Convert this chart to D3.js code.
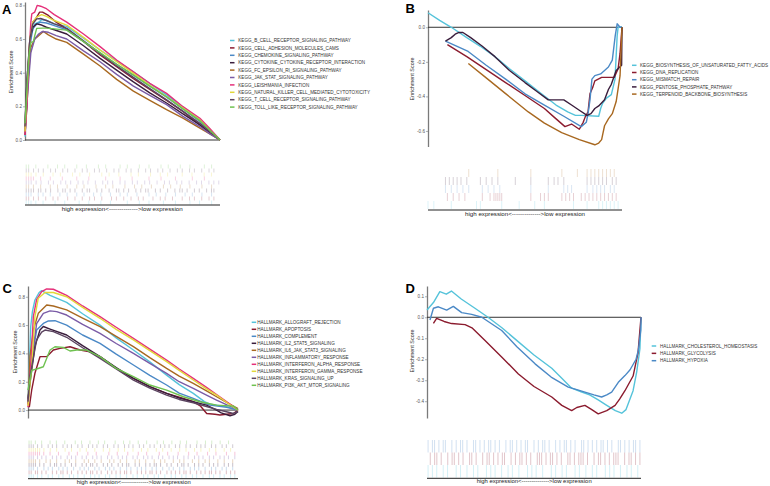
<!DOCTYPE html>
<html><head><meta charset="utf-8">
<script src="https://cdn.jsdelivr.net/npm/d3@7"></script>
<style>body{margin:0;background:#fff}svg{display:block}text{font-family:"Liberation Sans",Arial,Helvetica,sans-serif}</style>
</head><body><svg id="c" width="770" height="486"></svg>
<script>
// ---------------- DATA ----------------
const colors10 = ["#55C3DA","#8B1B2E","#4B89C6","#3A1D3C","#A86820","#7A5BA6","#E5307A","#E2D83A","#5B4460","#6FC250"];
const colors5  = ["#55C3DA","#8B1B2E","#4B89C6","#3A1D3C","#A86820"];
const colors3  = ["#55C3DA","#8B1B2E","#4B89C6"];

const namesA = ["KEGG_B_CELL_RECEPTOR_SIGNALING_PATHWAY","KEGG_CELL_ADHESION_MOLECULES_CAMS","KEGG_CHEMOKINE_SIGNALING_PATHWAY","KEGG_CYTOKINE_CYTOKINE_RECEPTOR_INTERACTION","KEGG_FC_EPSILON_RI_SIGNALING_PATHWAY","KEGG_JAK_STAT_SIGNALING_PATHWAY","KEGG_LEISHMANIA_INFECTION","KEGG_NATURAL_KILLER_CELL_MEDIATED_CYTOTOXICITY","KEGG_T_CELL_RECEPTOR_SIGNALING_PATHWAY","KEGG_TOLL_LIKE_RECEPTOR_SIGNALING_PATHWAY"];
const namesB = ["KEGG_BIOSYNTHESIS_OF_UNSATURATED_FATTY_ACIDS","KEGG_DNA_REPLICATION","KEGG_MISMATCH_REPAIR","KEGG_PENTOSE_PHOSPHATE_PATHWAY","KEGG_TERPENOID_BACKBONE_BIOSYNTHESIS"];
const namesC = ["HALLMARK_ALLOGRAFT_REJECTION","HALLMARK_APOPTOSIS","HALLMARK_COMPLEMENT","HALLMARK_IL2_STAT5_SIGNALING","HALLMARK_IL6_JAK_STAT3_SIGNALING","HALLMARK_INFLAMMATORY_RESPONSE","HALLMARK_INTERFERON_ALPHA_RESPONSE","HALLMARK_INTERFERON_GAMMA_RESPONSE","HALLMARK_KRAS_SIGNALING_UP","HALLMARK_PI3K_AKT_MTOR_SIGNALING"];
const namesD = ["HALLMARK_CHOLESTEROL_HOMEOSTASIS","HALLMARK_GLYCOLYSIS","HALLMARK_HYPOXIA"];

const ticksA = [0,0.2,0.4,0.6,0.8];
const ticksB = [0,-0.2,-0.4,-0.6];
const ticksC = [0,0.2,0.4,0.6,0.8];
const ticksD = [0.1,0,-0.1,-0.2,-0.3,-0.4];

const axisTitle = "Enrichment Score";
const rugLabel = "high expression<-------------->low expression";

// running enrichment score curves: [rank %, ES]
const curvesA = [
 [[0,0.02],[1,0.25],[2,0.5],[3,0.62],[5,0.69],[7,0.70],[8.5,0.715],[11,0.71],[15,0.69],[21.4,0.675],[30,0.605],[38.5,0.535],[47,0.47],[55.6,0.405],[64,0.335],[72.6,0.268],[81,0.195],[89.7,0.12],[95,0.06],[100,0]],
 [[0,0.03],[1,0.2],[2.5,0.58],[4,0.7],[5.5,0.72],[7.5,0.76],[9,0.76],[12,0.74],[16,0.70],[21.4,0.66],[30,0.585],[38.5,0.505],[47,0.435],[55.6,0.365],[64,0.30],[72.6,0.235],[81,0.17],[89.7,0.09],[95,0.04],[100,0]],
 [[0,0.05],[1,0.3],[2.5,0.56],[4,0.66],[6,0.69],[8,0.70],[11,0.695],[15,0.68],[21.4,0.655],[30,0.585],[38.5,0.515],[47,0.45],[55.6,0.385],[64,0.32],[72.6,0.255],[81,0.185],[89.7,0.11],[95,0.055],[100,0]],
 [[0,0.1],[1,0.35],[2.5,0.6],[4,0.67],[6,0.69],[8,0.685],[11,0.67],[15,0.655],[21.4,0.63],[30,0.56],[38.5,0.485],[47,0.415],[55.6,0.345],[64,0.28],[72.6,0.22],[81,0.155],[89.7,0.09],[95,0.04],[100,0]],
 [[0,0.05],[1.5,0.35],[3,0.55],[5,0.6],[7,0.62],[9.4,0.645],[12,0.625],[16,0.6],[21.4,0.58],[30,0.51],[38.5,0.44],[47,0.36],[55.6,0.29],[64,0.235],[72.6,0.18],[81,0.13],[89.7,0.07],[95,0.035],[100,0]],
 [[0,0.05],[1.5,0.3],[3,0.52],[5,0.6],[7,0.63],[9,0.645],[12,0.64],[16,0.62],[21.4,0.6],[30,0.53],[38.5,0.465],[47,0.39],[55.6,0.32],[64,0.265],[72.6,0.21],[81,0.14],[89.7,0.08],[95,0.035],[100,0]],
 [[0,0.03],[1,0.22],[2,0.5],[3,0.7],[3.5,0.75],[5,0.76],[6.3,0.80],[8,0.795],[11,0.78],[15,0.745],[21.4,0.70],[30,0.63],[38.5,0.555],[47,0.475],[55.6,0.405],[64,0.337],[72.6,0.277],[81,0.198],[89.7,0.129],[95,0.065],[100,0]],
 [[0,0.05],[1,0.3],[2.5,0.6],[4,0.7],[6,0.73],[8.5,0.745],[11,0.735],[15,0.71],[21.4,0.683],[30,0.61],[38.5,0.535],[47,0.465],[55.6,0.396],[64,0.325],[72.6,0.257],[81,0.19],[89.7,0.119],[95,0.055],[100,0]],
 [[0,0.08],[1,0.35],[2.5,0.6],[4,0.69],[6,0.72],[8,0.722],[11,0.71],[15,0.69],[21.4,0.663],[30,0.59],[38.5,0.515],[47,0.44],[55.6,0.372],[64,0.305],[72.6,0.238],[81,0.17],[89.7,0.099],[95,0.05],[100,0]],
 [[0,0.1],[1,0.3],[2,0.5],[3,0.58],[4.3,0.585],[5,0.62],[6,0.663],[9,0.665],[11,0.665],[15,0.66],[21.4,0.653],[30,0.585],[38.5,0.519],[47,0.45],[55.6,0.386],[64,0.32],[72.6,0.257],[81,0.185],[89.7,0.115],[95,0.055],[100,0]]
];
const curvesB = [
 [[0,0.084],[6,0.04],[12,0],[20,-0.06],[27,-0.11],[34.5,-0.17],[42,-0.24],[50,-0.31],[58,-0.38],[66,-0.45],[72,-0.49],[76,-0.51],[79,-0.51],[88,-0.515],[89,-0.47],[90,-0.44],[92,-0.41],[94.5,-0.39],[96.4,-0.30],[97.5,-0.05],[98,0],[100,0]],
 [[10,-0.10],[20,-0.17],[30,-0.245],[40,-0.32],[50,-0.395],[60,-0.47],[65,-0.52],[70.6,-0.575],[74,-0.56],[78,-0.59],[80,-0.55],[81,-0.52],[82.5,-0.49],[83.5,-0.385],[85,-0.345],[86,-0.31],[89.5,-0.29],[96,-0.29],[98,-0.24],[99,-0.15],[100,0]],
 [[9,-0.08],[15,-0.11],[20.7,-0.14],[30,-0.22],[40,-0.30],[50,-0.385],[60,-0.45],[70,-0.515],[79,-0.575],[81.6,-0.55],[82.5,-0.50],[83.5,-0.42],[84.5,-0.30],[86,-0.28],[89,-0.27],[91,-0.25],[93,-0.23],[95,-0.19],[96.5,-0.05],[97.5,0.02],[99,0],[100,0]],
 [[9,-0.08],[12,-0.06],[14,-0.04],[16,-0.03],[18,-0.03],[22,-0.06],[28,-0.11],[34.5,-0.17],[42,-0.25],[50,-0.32],[56,-0.37],[62,-0.42],[66,-0.42],[70,-0.42],[74,-0.45],[78,-0.48],[82,-0.51],[84,-0.50],[86,-0.47],[88,-0.455],[91,-0.42],[93,-0.36],[94.5,-0.33],[97,-0.25],[99.8,-0.22],[100,0]],
 [[20.8,-0.21],[30,-0.293],[40,-0.384],[51.7,-0.49],[60,-0.555],[68.9,-0.61],[78,-0.65],[86,-0.68],[88,-0.67],[89.5,-0.65],[91,-0.57],[93,-0.53],[95,-0.50],[97,-0.43],[99,-0.28],[100,0]]
];
const curvesC = [
 [[0,0.05],[0.63,0.31],[1.3,0.59],[2.1,0.695],[3.3,0.777],[5.3,0.83],[6.5,0.843],[10.5,0.81],[18.4,0.76],[26,0.68],[34.3,0.60],[42,0.51],[50.2,0.424],[58,0.34],[66,0.247],[72,0.18],[78.7,0.118],[84,0.06],[86.7,0.042],[94.6,0.024],[100,0]],
 [[0.63,0.02],[1.75,0.14],[3.3,0.26],[5.7,0.377],[8.9,0.377],[12.06,0.424],[15.2,0.436],[20,0.447],[24.8,0.424],[29.5,0.412],[34.3,0.377],[42,0.294],[50.2,0.224],[58,0.165],[66,0.118],[74,0.082],[78.7,0.059],[82,0.03],[85.1,-0.024],[89,-0.03],[91.4,-0.035],[97.8,-0.024],[100,0]],
 [[0,0.06],[1.75,0.35],[4.1,0.565],[7.3,0.612],[9.7,0.629],[12.86,0.631],[18.4,0.60],[26,0.53],[34.3,0.471],[42,0.395],[50.2,0.318],[58,0.245],[66,0.177],[72,0.12],[78.7,0.082],[84,0.05],[86.7,0.035],[94.6,0.02],[100,0]],
 [[0,0.08],[0.95,0.19],[3.3,0.45],[5.7,0.565],[7.3,0.59],[10.5,0.572],[18.4,0.53],[26,0.455],[34.3,0.377],[42,0.30],[50.2,0.224],[58,0.165],[66,0.118],[72,0.085],[78.7,0.059],[85,0.035],[89.8,0.0],[92,-0.02],[96.2,-0.04],[98.5,-0.03],[100,-0.01]],
 [[0,0.04],[0.95,0.38],[2.54,0.565],[4.9,0.683],[8.9,0.742],[12.06,0.735],[18.4,0.707],[26,0.65],[34.3,0.589],[42,0.52],[50.2,0.448],[58,0.37],[66,0.294],[72,0.24],[78.7,0.188],[85,0.135],[89.8,0.094],[95,0.05],[100,0.01]],
 [[0,0.05],[1.75,0.35],[4.1,0.61],[7.3,0.683],[10.5,0.70],[13.65,0.695],[18.4,0.671],[26,0.605],[34.3,0.542],[42,0.47],[50.2,0.40],[58,0.33],[66,0.259],[72,0.2],[78.7,0.153],[85,0.105],[89.8,0.07],[95,0.035],[100,0.005]],
 [[0,0.02],[1.75,0.42],[2.54,0.66],[4.1,0.78],[6.5,0.836],[8.9,0.855],[12.06,0.853],[18.4,0.81],[26,0.735],[34.3,0.66],[42,0.585],[50.2,0.506],[58,0.43],[66,0.353],[72,0.29],[78.7,0.224],[85,0.16],[89.8,0.11],[95,0.055],[100,0]],
 [[0,0.03],[1.75,0.31],[3.3,0.66],[4.9,0.79],[8.1,0.83],[12.06,0.83],[18.4,0.80],[26,0.725],[34.3,0.648],[42,0.57],[50.2,0.495],[58,0.42],[66,0.342],[72,0.28],[78.7,0.212],[85,0.15],[89.8,0.106],[95,0.05],[100,0]],
 [[0,0.06],[0.95,0.24],[4.1,0.495],[6.5,0.55],[8.1,0.565],[12.06,0.554],[18.4,0.514],[26,0.44],[34.3,0.365],[42,0.29],[50.2,0.212],[58,0.155],[66,0.106],[72,0.075],[78.7,0.052],[85,0.025],[89.8,0.005],[94,-0.01],[97.8,-0.024],[100,-0.01]],
 [[0,0.14],[1.75,0.28],[4.1,0.29],[7.3,0.306],[10.5,0.424],[12.86,0.447],[16.8,0.443],[20,0.417],[23.2,0.424],[27.9,0.424],[34.3,0.377],[42,0.294],[50.2,0.236],[58,0.177],[66,0.141],[74,0.094],[81.9,0.059],[89.8,0.035],[97.8,0.028],[100,0]]
];
const curvesD = [
 [[0,0.035],[3,0.07],[6,0.122],[9,0.11],[11.4,0.125],[16,0.087],[22.4,0.043],[28.5,0],[35,-0.05],[42.6,-0.116],[50,-0.18],[58.3,-0.243],[63,-0.29],[67.6,-0.338],[72,-0.355],[76,-0.37],[80,-0.394],[84,-0.42],[88,-0.445],[91,-0.457],[93,-0.44],[96.3,-0.35],[98,-0.26],[99.5,-0.15],[100,0]],
 [[3,-0.029],[4.5,-0.005],[8,-0.02],[11.5,-0.03],[17.8,-0.035],[21,-0.05],[27,-0.11],[35,-0.19],[42.7,-0.27],[50,-0.33],[58.3,-0.38],[63,-0.42],[67.6,-0.445],[70,-0.43],[73.8,-0.42],[77,-0.44],[80,-0.46],[84,-0.445],[87.9,-0.42],[90,-0.39],[92.5,-0.35],[96.3,-0.28],[98.6,-0.17],[100,0]],
 [[1.4,-0.013],[3,0.043],[5.3,0.05],[9.2,0.034],[12.3,0.052],[16.2,0.022],[20.9,0.014],[25.6,0],[34.9,-0.063],[42,-0.14],[50.5,-0.222],[58,-0.285],[66,-0.333],[70,-0.345],[73.8,-0.357],[78,-0.37],[81.6,-0.38],[84,-0.37],[86.3,-0.357],[89.4,-0.31],[92.5,-0.278],[94.9,-0.25],[97.7,-0.2],[98.8,-0.155],[99.9,-0.06],[100,0]]
];

// gene hit positions (rug rows); '|' = hit in that rank bin
const rugA = [
 "|||.|..|....|...|.....|...|....|...|......|....|...|.....|....|.....|...|....|...",
 "||.|.|..|..|.|...|..|..|..|.|..|...|.|..|..|..|.|...|..|.|..|...|..|.|..|..|.|..",
 "|||..|.|..|...|..|...|..|...|..|...|...|..|...|....|..|...|...|...|..|...|...|...",
 "||||.||.|.|..|.||.|.|..|.||..|.|..|..||.|.|..|.|.||..|.|..|..|.||.|..|.|..|.||..",
 "||.|..|...|..|...|...|..|....|...|..|....|...|..|...|....|..|...|...|....|...|...",
 "|||.|.|..|.|..|.|.|..|.|.|..|..|.|.|..|.|..|.|..|.|..|..|.|..|.|..|..|.|..|.|.|",
 "||||..|...|....|.....|....|......|.....|....|......|....|.....|......|....|......",
 "|||.|..|...|..|....|..|...|....|..|...|....|..|....|...|..|.....|...|....|..|...",
 "||.|.|.|..|.|..|.|..|..|.|..|.|..|..|.|..|.|..|..|.|..|.|..|..|.|..|.|..|..|.|..",
 "||..|....|...|..|....|...|....|..|.....|..|....|...|....|..|....|...|.....|..|..."
];
const rugB = [
 [0,3,12,25,27,38,47,55,60,75,82,88,90,92,94,96,98],
 [10,13,16,19,28,32,34,35,36,37,38,53,58,60,62,69,71,73,75,79,81,83,85,87,89,91,93,95,97],
 [9,12,15,18,21,28,31,34,37,53,62,70,72,74,82,85,87,89,91,94,96],
 [9,11,13,15,17,20,27,30,33,36,45,53,62,65,67,70,82,84,86,88,90,92,95,97],
 [21,36,53,69,77,82,84,86,88,90,92,94,96]
];
const rugC = [
 "|||.|.|..|.|..|.|..|.|.|..|..|.|.|..|.|..|.|..|..|.|..|.|..|.|..|..|.|..|.|..|.|..|..|.|..|.|..|.|.",
 "||.||.|.|..|.|.||.|.|..|.|.|.||.|.|..|.|.|.|.||.|..|.|.|.||.|.|..|.|.|.|.||.|..|.|.|.||.|.|..|.|.|.",
 "|||.|..|.|.|..|.|.|..|..|.|.|..|.|..|.|.|..|..|.|..|.|.|..|.|..|..|.|..|.|..|.|.|..|..|.|..|.|..|..",
 "||||.|.|..|.||.|.|..|.|..|.|.||.|..|.|.|..|.|.||..|.|..|.|.||.|..|.|..|.||.|..|.|.|..|.|.|..|.|.|..",
 "||||.|..|.|..|...|.|..|...|.|..|..|...|.|..|..|...|.|..|...|..|.|...|..|.|...|..|..|.|...|..|...|..",
 "|||.|.|.|..|.|.|..|.|.|..|.|..|.|.|..|.|..|.|.|..|.|..|.|.|..|.|..|.|.|..|.|..|.|.|..|.|..|.|.|..|.",
 "||||||.|..|...|....|...|....|...|.....|...|....|....|...|.....|...|....|....|...|....|...|....|...|.",
 "||||||.|..|..|...|..|...|..|...|...|..|...|..|...|...|..|...|..|...|...|..|...|..|...|..|...|..|...",
 "|||.|.|..|.|.|..|.|.|..|.|..|.|.|..|.|..|.|..|.|.|..|.|..|.|..|.|.|..|.|..|.|..|.|.|..|.|..|.|..|..",
 "||.|..|...|..|...|....|..|...|...|..|....|...|..|...|...|....|..|...|...|..|....|...|..|...|...|...."
];
const rugD = [
 "|.|.|..|.|...|.|..|..|.|...|.|.|..|..|.|..|...|.|.|..|...|.|..|.|...|.|..|..|.|...|.|.|..|..|.|..|.",
 ".|.||.|..|.||.|.|..||.|..|.||.|.|.||..|.|.||.|.|..|||.|.||.|.|..||.|.|||.|..|.||.|.|.|||..|.||.|.|",
 "|.||.|.||..|.|.||.|..||.|.|.||.|.|..|.||.|.|.||..|.|.||.|..|.|.||.|.|..||.|.|.|.||.|.|..||.|.|.||.|"
];

// ---------------- LAYOUT ----------------
const svg = d3.select("#c");
svg.append("rect").attr("width",770).attr("height",486).attr("fill","#fff");

const panels = [
 {letter:"A", lx:2, ly:13.5, x0:25, x1:220, yTop:2, yBot:140, yDom:[0,0.82], ticks:ticksA,
  titleX:11, titleY:72, legX:230, legTX:238.3, legY:40.5, legStep:7.4,
  rugTop:164.5, rugBot:204.5, rugBase:205, rugTX:122.2, rugTY:210.8, rugTL:121, rugOp:0.22,
  names:namesA, colors:colors10, curves:curvesA, rug:rugA},
 {letter:"B", lx:405.5, ly:13.3, x0:428, x1:622, yTop:10, yBot:146.5, yDom:[-0.69,0.1], ticks:ticksB,
  titleX:411.7, titleY:79, legX:632, legTX:640, legY:65.3, legStep:7.2,
  rugTop:169, rugBot:209, rugBase:210, rugTX:525, rugTY:215.5, rugTL:120, rugOp:0.2,
  names:namesB, colors:colors5, curves:curvesB, rug:rugB},
 {letter:"C", lx:2.5, ly:293.3, x0:28, x1:238, yTop:286, yBot:418, yDom:[-0.056,0.876], ticks:ticksC,
  titleX:15, titleY:352, legX:251.7, legTX:257.3, legY:322.3, legStep:7.0,
  rugTop:440.5, rugBot:478, rugBase:478.7, rugTX:133.7, rugTY:483.5, rugTL:114, rugOp:0.28,
  names:namesC, colors:colors10, curves:curvesC, rug:rugC},
 {letter:"D", lx:405.5, ly:293.3, x0:427, x1:641, yTop:286, yBot:418, yDom:[-0.48,0.149], ticks:ticksD,
  titleX:411.7, titleY:351, legX:651.7, legTX:660, legY:346, legStep:7.35,
  rugTop:440, rugBot:477.5, rugBase:478.3, rugTX:534.2, rugTY:483, rugTL:115, rugOp:0.25,
  names:namesD, colors:colors3, curves:curvesD, rug:rugD}
];

panels.forEach(p => {
  const g = svg.append("g");
  const x = d3.scaleLinear().domain([0,100]).range([p.x0,p.x1]);
  const y = d3.scaleLinear().domain(p.yDom).range([p.yBot,p.yTop]);

  // panel letter
  g.append("text").attr("x",p.lx).attr("y",p.ly).attr("font-size",13).attr("font-weight","bold")
    .attr("fill","#000").text(p.letter);

  // y axis
  const ax = g.append("g").attr("transform",`translate(${p.x0},0)`)
    .call(d3.axisLeft(y).tickValues(p.ticks).tickSize(2).tickSizeOuter(0).tickPadding(1)
      .tickFormat(d => d.toFixed(1)));
  ax.select(".domain").attr("stroke","#7a7a7a").attr("stroke-width",1.3);
  ax.selectAll(".tick line").attr("stroke","#7a7a7a").attr("stroke-width",0.6);
  ax.selectAll(".tick text").attr("font-size",4.6).attr("fill","#555")
    .attr("font-family",'"Liberation Sans",Arial,sans-serif');

  // axis title
  g.append("text").attr("transform",`translate(${p.titleX},${p.titleY}) rotate(-90)`)
    .attr("text-anchor","middle").attr("dy","0.35em").attr("font-size",5.4).attr("fill","#333")
    .text(axisTitle);

  // zero line
  g.append("line").attr("x1",p.x0).attr("x2",p.x1).attr("y1",y(0)).attr("y2",y(0))
    .attr("stroke","#333").attr("stroke-width",1);

  // ES curves
  const line = d3.line().x(d => x(d[0])).y(d => y(d[1]));
  p.curves.forEach((c,i) => {
    g.append("path").attr("d",line(c)).attr("fill","none").attr("stroke",p.colors[i])
      .attr("stroke-width",1.4).attr("stroke-linejoin","round");
  });

  // legend
  p.names.forEach((n,i) => {
    const ly = p.legY + i*p.legStep;
    g.append("line").attr("x1",p.legX).attr("x2",p.legX+4.5).attr("y1",ly).attr("y2",ly)
      .attr("stroke",p.colors[i]).attr("stroke-width",1.5);
    g.append("text").attr("x",p.legTX).attr("y",ly).attr("dy","0.35em").attr("font-size",4.6)
      .attr("fill","#333").text(n);
  });

  // rug rows (series drawn bottom-up)
  const nRows = p.rug.length;
  const band = d3.scaleBand().domain(d3.range(nRows)).range([p.rugTop,p.rugBot]);
  p.rug.forEach((r,i) => {
    const row = nRows-1-i;
    let pos;
    if (typeof r === "string") {
      const xs = d3.scaleLinear().domain([0,r.length]).range([p.x0,p.x1]);
      pos = [];
      for (let k=0;k<r.length;k++) if (r[k]==="|") pos.push(xs(k+0.5));
    } else {
      pos = r.map(v => x(v));
    }
    g.selectAll(null).data(pos).enter().append("rect")
      .attr("x",d => d-0.5).attr("width",1).attr("y",band(row)).attr("height",band.bandwidth())
      .attr("fill",p.colors[i]).attr("opacity",p.rugOp);
  });
  g.append("line").attr("x1",p.x0).attr("x2",p.x1).attr("y1",p.rugBase).attr("y2",p.rugBase)
    .attr("stroke","#222").attr("stroke-width",1);
  g.append("text").attr("x",p.rugTX).attr("y",p.rugTY).attr("text-anchor","middle")
    .attr("font-size",5.4).attr("fill","#222").attr("textLength",p.rugTL)
    .attr("lengthAdjust","spacingAndGlyphs").text(rugLabel);
});
</script>
</body></html>
